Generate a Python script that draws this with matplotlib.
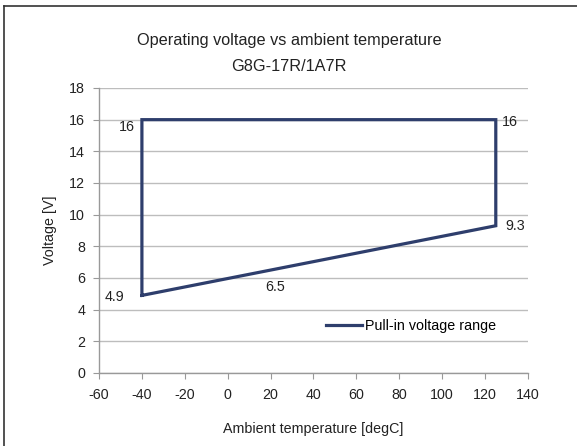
import matplotlib
matplotlib.use("Agg")
import matplotlib.pyplot as plt
from matplotlib.lines import Line2D

plt.rcParams["font.family"] = ["Liberation Sans", "DejaVu Sans"]

# pull-in voltage envelope, traced round the closed path
temps = [-40, -40, 125, 125, 20, -40]
volts = [4.9, 16, 16, 9.3, 6.5, 4.9]

# point labels: (x, y, text, offset in points)
labels = [
    (-40, 16, "16", (-11, -5)),
    (-40, 4.9, "4.9", (-20, -1)),
    (20, 6.5, "6.5", (3, -12)),
    (125, 16, "16", (10, -2)),
    (125, 9.3, "9.3", (14, 0)),
]

x_ticks = list(range(-60, 141, 20))
y_ticks = list(range(0, 19, 2))

NAVY = "#2e3e6c"
GRID = "#bdbdbd"
FS = 10.3

fig = plt.figure(figsize=(5.77, 4.46), dpi=100)
ax = fig.add_axes([0.1716, 0.1637, 0.7434, 0.639])

ax.plot(temps, volts, color=NAVY, lw=2.3, solid_joinstyle="miter",
        label="Pull-in voltage range", zorder=3)

for x, y, t, off in labels:
    ax.annotate(t, (x, y), xytext=off, textcoords="offset points",
                ha="center", va="center", fontsize=FS, color="#222")

ax.set_xlim(-60, 140)
ax.set_ylim(0, 18)
ax.set_xticks(x_ticks)
ax.set_yticks(y_ticks)
ax.set_xticklabels([str(v) for v in x_ticks])
ax.set_yticklabels([str(v) for v in y_ticks])
ax.tick_params(labelsize=FS, colors="#222", length=4, width=0.8)
ax.tick_params(axis="both", color="#999")
ax.tick_params(axis="x", pad=7)
ax.tick_params(axis="y", pad=6)
ax.yaxis.grid(True, color=GRID, lw=1.0)
ax.set_axisbelow(True)
for s in ("top", "right"):
    ax.spines[s].set_visible(False)
for s in ("left", "bottom"):
    ax.spines[s].set_color("#999")
    ax.spines[s].set_linewidth(1.0)

ax.set_xlabel("Ambient temperature [degC]", fontsize=FS, color="#222", labelpad=14)
ax.set_ylabel("Voltage [V]", fontsize=FS, color="#222", labelpad=9)

fig.text(0.501, 0.91, "Operating voltage vs ambient temperature",
         ha="center", va="center", fontsize=11.7, color="#222")
fig.text(0.501, 0.85, "G8G-17R/1A7R",
         ha="center", va="center", fontsize=11.7, color="#222")

ax.legend(handles=[Line2D([0], [0], color=NAVY, lw=2.3)],
          labels=["Pull-in voltage range"], loc="center left",
          bbox_to_anchor=(0.5, 0.165), frameon=False, fontsize=FS,
          handlelength=2.5, handletextpad=0.2)

# outer chart border (only top and left edges show in the crop)
fig.add_artist(Line2D([0.007, 1.0], [0.987, 0.987], color="#333", lw=1.2,
                      transform=fig.transFigure))
fig.add_artist(Line2D([0.007, 0.007], [0.0, 0.987], color="#333", lw=1.2,
                      transform=fig.transFigure))

fig.savefig("out.png", dpi=100)
